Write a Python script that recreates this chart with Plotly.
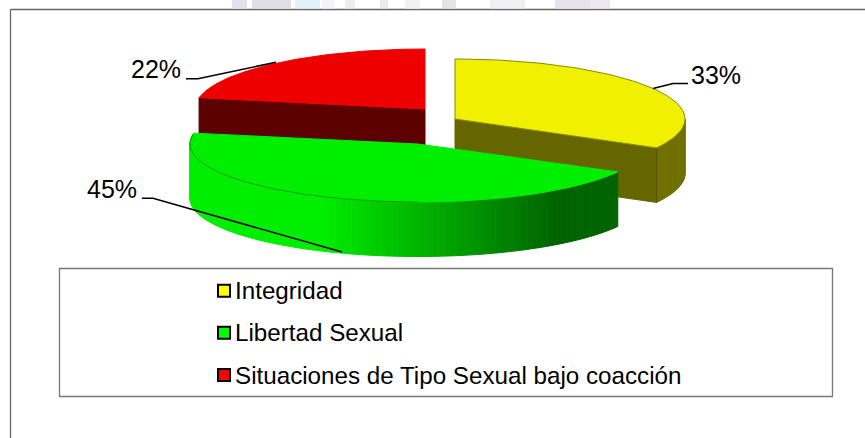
import math
import plotly.graph_objects as go

# ---- data ----
categories = ["Integridad", "Libertad Sexual", "Situaciones de Tipo Sexual bajo coacción"]
values = [33, 45, 22]
labels = ["33%", "45%", "22%"]
top_colors = ["#f0f000", "#00ee00", "#ee0000"]
face_colors = ["#666600", "#006600", "#5c0000"]
legend_colors = ["#ffff00", "#00ff00", "#ff0000"]

# ---- projection of the exploded 3-D pie into the pixel-sized axes ----
A = [230.0, 228.0, 230.0]
B = [60.0, 58.0, 60.0]
CENTERS = [(455.0, 119.0), (418.0, 144.0), (425.0, 109.0)]
DEPTH = 54.5


def pt(i, theta, dz=0.0):
    cx, cy = CENTERS[i]
    return cx + A[i] * math.sin(theta), cy - B[i] * math.cos(theta) + dz


def arc(i, t0, t1, dz=0.0, n=80):
    return [pt(i, t0 + (t1 - t0) * k / n, dz) for k in range(n + 1)]


total = sum(values)
angles = []
acc = 0.0
for v in values:
    angles.append((acc / total * 2 * math.pi, (acc + v) / total * 2 * math.pi))
    acc += v

fig = go.Figure()


def poly(points, fill, line=None, width=1):
    xs = [p[0] for p in points] + [points[0][0]]
    ys = [p[1] for p in points] + [points[0][1]]
    fig.add_trace(go.Scatter(x=xs, y=ys, mode="lines", fill="toself", fillcolor=fill,
                             line=dict(color=line or fill, width=width),
                             hoverinfo="skip", showlegend=False))


def lerp(c0, c1, t):
    t = max(0.0, min(1.0, t))
    return "rgb(%d,%d,%d)" % tuple(round(a + (b - a) * t) for a, b in zip(c0, c1))


def strips(i, t0, t1, colour, n=70):
    for k in range(n):
        a = t0 + (t1 - t0) * k / n
        b = t0 + (t1 - t0) * (k + 1) / n
        p0, p1 = pt(i, a), pt(i, b)
        q0, q1 = pt(i, b, DEPTH), pt(i, a, DEPTH)
        c = colour((p0[0] + p1[0]) / 2)
        poly([p0, p1, q0, q1], c, c, 1)


def cut_face(i, theta):
    c = CENTERS[i]
    e = pt(i, theta)
    poly([c, e, (e[0], e[1] + DEPTH), (c[0], c[1] + DEPTH)], face_colors[i])


# red slice (rear)
r0, r1 = angles[2]
cut_face(2, r0)
poly([CENTERS[2]] + arc(2, r0, r1), top_colors[2])

# yellow slice
y0, y1 = angles[0]
cut_face(0, y1)
strips(0, math.pi / 2, y1, lambda x: lerp((0x70, 0x70, 0), (0x62, 0x62, 0), (x - 653) / -32), n=20)
e = pt(0, y1)
fig.add_trace(go.Scatter(x=[e[0], e[0]], y=[e[1], e[1] + DEPTH], mode="lines",
                         line=dict(color="#505000", width=1), hoverinfo="skip", showlegend=False))
poly([CENTERS[0]] + arc(0, y0, y1), top_colors[0], "#8a8a00", 1)

# green slice (front)
g0, g1 = angles[1]
strips(1, g0, g1, lambda x: lerp((0, 238, 0), (0, 100, 0), (x - 320) / 235), n=110)
poly([CENTERS[1]] + arc(1, g0, g1), top_colors[1])
front = arc(1, math.pi, g1 - 0.03)
fig.add_trace(go.Scatter(x=[p[0] for p in front], y=[p[1] for p in front], mode="lines",
                         line=dict(color="#00a000", width=1), hoverinfo="skip", showlegend=False))

# leader lines
for xs, ys in [([653, 673, 688], [88.5, 83.5, 83.5]),
               ([142, 153, 342], [198.3, 198.3, 252]),
               ([186, 198, 276], [78.7, 78.7, 62.3])]:
    fig.add_trace(go.Scatter(x=xs, y=ys, mode="lines", line=dict(color="#000000", width=1.6),
                             hoverinfo="skip", showlegend=False))

# legend keys
legend_y = [290.7, 332.7, 375.0]
fig.add_trace(go.Scatter(x=[224, 224, 224], y=legend_y, mode="markers",
                         marker=dict(symbol="square", size=12, color=legend_colors,
                                     line=dict(color="#000000", width=2)),
                         hoverinfo="skip", showlegend=False))

annotations = []
for name, ly in zip(categories, legend_y):
    annotations.append(dict(x=233, y=ly, text=name, showarrow=False, xanchor="left", yanchor="middle",
                            font=dict(family="Liberation Sans", size=24.2, color="#000000")))
for lab, lx, ly in zip(labels, [716, 112, 156], [75, 189, 69]):
    annotations.append(dict(x=lx, y=ly, text=lab, showarrow=False, xanchor="center", yanchor="middle",
                            font=dict(family="Liberation Sans", size=25, color="#000000")))

shapes = [
    dict(type="line", x0=10.5, x1=10.5, y0=9.5, y1=438, line=dict(color="#666666", width=1.3), layer="below"),
    dict(type="line", x0=10.5, x1=865, y0=9.5, y1=9.5, line=dict(color="#666666", width=1.3), layer="below"),
    dict(type="rect", x0=59.5, x1=832.5, y0=268.5, y1=396.5, fillcolor="#ffffff",
         line=dict(color="#777777", width=1.3), layer="below"),
]
# faded remains of the page background above the frame
for x0, x1, col in [(232, 247, "#e2e2ec"), (252, 291, "#dedfe9"), (295, 320, "#e2f0fa"),
                    (322, 335, "#f4f4f7"), (345, 355, "#eeeef1"), (380, 388, "#ebebee"),
                    (405, 420, "#f2f2f4"), (442, 456, "#e4e4e8"), (490, 525, "#f0f0f3"),
                    (555, 590, "#e6e3ef"), (590, 610, "#ebe8f3")]:
    shapes.append(dict(type="rect", x0=x0, x1=x1, y0=0, y1=8.5, fillcolor=col, line=dict(width=0), layer="below"))

fig.update_layout(
    width=865, height=438, margin=dict(l=0, r=0, t=0, b=0),
    paper_bgcolor="#ffffff", plot_bgcolor="#ffffff", showlegend=False,
    xaxis=dict(range=[0, 865], visible=False, fixedrange=True),
    yaxis=dict(range=[438, 0], visible=False, fixedrange=True),
    annotations=annotations, shapes=shapes,
)
fig.write_html("out.html", config={"displayModeBar": False},
               post_script="document.body.style.margin='0';document.body.style.overflow='hidden';")
